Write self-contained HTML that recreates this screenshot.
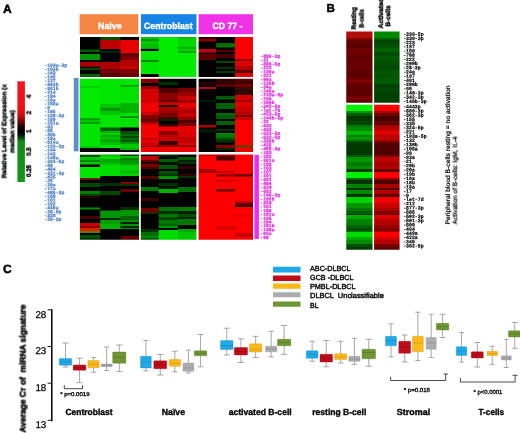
<!DOCTYPE html>
<html lang="en"><head><meta charset="utf-8"><title>Figure</title>
<style>html,body{margin:0;padding:0;background:#fff}body{width:520px;height:433px;overflow:hidden}svg{display:block;font-family:"Liberation Sans",sans-serif;text-rendering:geometricPrecision}</style>
</head><body>
<svg width="520" height="433" viewBox="0 0 520 433">
<defs><filter id="bl" x="-5%" y="-5%" width="110%" height="110%"><feGaussianBlur stdDeviation="0.6 0.62"/></filter><filter id="tb" x="-10%" y="-2%" width="120%" height="104%"><feGaussianBlur stdDeviation="0.28"/></filter><filter id="tb2" x="-20%" y="-20%" width="140%" height="140%"><feGaussianBlur stdDeviation="0.25"/></filter><filter id="bl2" x="-5%" y="-5%" width="110%" height="110%"><feGaussianBlur stdDeviation="0.5 0.55"/></filter>
<linearGradient id="lg" x1="0" y1="0" x2="0" y2="1"><stop offset="0" stop-color="#f5151f"/><stop offset="0.28" stop-color="#ee0f14"/><stop offset="0.355" stop-color="#b80a0c"/><stop offset="0.455" stop-color="#1c0000"/><stop offset="0.50" stop-color="#000"/><stop offset="0.53" stop-color="#021202"/><stop offset="0.60" stop-color="#138a18"/><stop offset="1" stop-color="#17961c"/></linearGradient>
</defs>
<rect width="520" height="433" fill="#fff"/>
<text filter="url(#tb2)" x="2.90" y="12.90" font-size="12.00" font-weight="bold" fill="#000" stroke="#000" stroke-width="0.480" text-anchor="start">A</text>
<text filter="url(#tb2)" x="326.40" y="12.30" font-size="11.60" font-weight="bold" fill="#000" stroke="#000" stroke-width="0.464" text-anchor="start">B</text>
<text filter="url(#tb2)" x="3.00" y="273.00" font-size="12.00" font-weight="bold" fill="#000" stroke="#000" stroke-width="0.480" text-anchor="start">C</text>
<rect x="79.6" y="14.2" width="58.7" height="20" fill="#f58542"/>
<rect x="140.9" y="14.2" width="55.6" height="20" fill="#1584e6"/>
<rect x="198.6" y="14.2" width="54.4" height="20" fill="#f033e6"/>
<text filter="url(#tb2)" x="109.80" y="29.20" font-size="9.20" font-weight="bold" fill="#fff" stroke="#fff" stroke-width="0.368" text-anchor="middle" textLength="23.50" lengthAdjust="spacingAndGlyphs">Naive</text>
<text filter="url(#tb2)" x="168.30" y="29.20" font-size="9.20" font-weight="bold" fill="#fff" stroke="#fff" stroke-width="0.368" text-anchor="middle" textLength="48.50" lengthAdjust="spacingAndGlyphs">Centroblast</text>
<text filter="url(#tb2)" x="227.50" y="29.20" font-size="9.20" font-weight="bold" fill="#fff" stroke="#fff" stroke-width="0.368" text-anchor="middle" textLength="30.00" lengthAdjust="spacingAndGlyphs">CD 77 -</text>
<clipPath id="c1"><rect x="79.90" y="37.00" width="59.20" height="40.00"/></clipPath>
<g clip-path="url(#c1)"><g filter="url(#bl)">
<rect x="76.90" y="34.00" width="24.95" height="17.10" fill="#000000"/>
<rect x="76.90" y="49.50" width="24.95" height="4.10" fill="#005a00"/>
<rect x="76.90" y="52.00" width="24.95" height="3.60" fill="#000000"/>
<rect x="76.90" y="54.00" width="24.95" height="7.60" fill="#009600"/>
<rect x="76.90" y="60.00" width="24.95" height="3.60" fill="#000000"/>
<rect x="76.90" y="62.00" width="24.95" height="6.10" fill="#aa0000"/>
<rect x="76.90" y="66.50" width="24.95" height="3.10" fill="#280000"/>
<rect x="76.90" y="68.00" width="24.95" height="3.60" fill="#004600"/>
<rect x="76.90" y="70.00" width="24.95" height="5.60" fill="#000000"/>
<rect x="76.90" y="74.00" width="24.95" height="7.60" fill="#006400"/>
<rect x="100.25" y="34.00" width="21.85" height="7.60" fill="#005000"/>
<rect x="100.25" y="40.00" width="21.85" height="10.60" fill="#be0000"/>
<rect x="100.25" y="49.00" width="21.85" height="3.60" fill="#000000"/>
<rect x="100.25" y="51.00" width="21.85" height="3.60" fill="#002800"/>
<rect x="100.25" y="53.00" width="21.85" height="7.60" fill="#030008"/>
<rect x="100.25" y="59.00" width="21.85" height="4.60" fill="#000000"/>
<rect x="100.25" y="62.00" width="21.85" height="8.60" fill="#aa0000"/>
<rect x="100.25" y="69.00" width="21.85" height="5.60" fill="#73000a"/>
<rect x="100.25" y="73.00" width="21.85" height="8.60" fill="#5a0000"/>
<rect x="120.50" y="34.00" width="21.60" height="7.60" fill="#000000"/>
<rect x="120.50" y="40.00" width="21.60" height="14.60" fill="#e60000"/>
<rect x="120.50" y="53.00" width="21.60" height="5.60" fill="#640000"/>
<rect x="120.50" y="57.00" width="21.60" height="4.60" fill="#820000"/>
<rect x="120.50" y="60.00" width="21.60" height="7.60" fill="#b40000"/>
<rect x="120.50" y="66.00" width="21.60" height="4.60" fill="#c80000"/>
<rect x="120.50" y="69.00" width="21.60" height="5.60" fill="#820000"/>
<rect x="120.50" y="73.00" width="21.60" height="8.60" fill="#6e0000"/>
</g></g>
<clipPath id="c2"><rect x="140.80" y="37.00" width="55.60" height="40.00"/></clipPath>
<g clip-path="url(#c2)"><g filter="url(#bl)">
<rect x="137.80" y="34.00" width="22.60" height="6.60" fill="#00c800"/>
<rect x="137.80" y="39.00" width="22.60" height="4.10" fill="#009600"/>
<rect x="137.80" y="41.50" width="22.60" height="3.10" fill="#00dc00"/>
<rect x="137.80" y="43.00" width="22.60" height="6.60" fill="#00be00"/>
<rect x="137.80" y="48.00" width="22.60" height="2.60" fill="#00a000"/>
<rect x="137.80" y="49.00" width="22.60" height="3.60" fill="#000000"/>
<rect x="137.80" y="51.00" width="22.60" height="10.60" fill="#00e600"/>
<rect x="137.80" y="60.00" width="22.60" height="3.60" fill="#008c00"/>
<rect x="137.80" y="62.00" width="22.60" height="13.60" fill="#00e600"/>
<rect x="137.80" y="74.00" width="22.60" height="7.60" fill="#000000"/>
<rect x="158.80" y="34.00" width="20.70" height="47.60" fill="#00eb00"/>
<rect x="177.90" y="34.00" width="21.50" height="6.60" fill="#00be00"/>
<rect x="177.90" y="39.00" width="21.50" height="9.60" fill="#00d700"/>
<rect x="177.90" y="47.00" width="21.50" height="3.60" fill="#00b400"/>
<rect x="177.90" y="49.00" width="21.50" height="3.60" fill="#00d200"/>
<rect x="177.90" y="51.00" width="21.50" height="3.60" fill="#00aa00"/>
<rect x="177.90" y="53.00" width="21.50" height="28.60" fill="#00eb00"/>
</g></g>
<clipPath id="c3"><rect x="198.60" y="37.00" width="54.40" height="40.00"/></clipPath>
<g clip-path="url(#c3)"><g filter="url(#bl)">
<rect x="195.60" y="34.00" width="22.20" height="6.10" fill="#1e0000"/>
<rect x="195.60" y="38.50" width="22.20" height="4.60" fill="#820000"/>
<rect x="195.60" y="41.50" width="22.20" height="9.10" fill="#000000"/>
<rect x="195.60" y="49.00" width="22.20" height="5.10" fill="#be0014"/>
<rect x="195.60" y="52.50" width="22.20" height="3.10" fill="#1e0000"/>
<rect x="195.60" y="54.00" width="22.20" height="7.60" fill="#5a0000"/>
<rect x="195.60" y="60.00" width="22.20" height="21.60" fill="#000000"/>
<rect x="216.20" y="34.00" width="20.50" height="10.60" fill="#000000"/>
<rect x="216.20" y="43.00" width="20.50" height="6.10" fill="#006e00"/>
<rect x="216.20" y="47.50" width="20.50" height="4.10" fill="#000000"/>
<rect x="216.20" y="50.00" width="20.50" height="3.60" fill="#500000"/>
<rect x="216.20" y="52.00" width="20.50" height="3.60" fill="#000000"/>
<rect x="216.20" y="54.00" width="20.50" height="5.60" fill="#460000"/>
<rect x="216.20" y="58.00" width="20.50" height="4.60" fill="#000000"/>
<rect x="216.20" y="61.00" width="20.50" height="3.60" fill="#004600"/>
<rect x="216.20" y="63.00" width="20.50" height="5.60" fill="#000000"/>
<rect x="216.20" y="67.00" width="20.50" height="3.60" fill="#003200"/>
<rect x="216.20" y="69.00" width="20.50" height="3.60" fill="#000000"/>
<rect x="216.20" y="71.00" width="20.50" height="3.60" fill="#003c00"/>
<rect x="216.20" y="73.00" width="20.50" height="8.60" fill="#000000"/>
<rect x="235.10" y="34.00" width="20.90" height="26.60" fill="#fa0000"/>
<rect x="235.10" y="59.00" width="20.90" height="3.60" fill="#960000"/>
<rect x="235.10" y="61.00" width="20.90" height="6.60" fill="#dc0000"/>
<rect x="235.10" y="66.00" width="20.90" height="5.60" fill="#b40000"/>
<rect x="235.10" y="70.00" width="20.90" height="4.60" fill="#640000"/>
<rect x="235.10" y="73.00" width="20.90" height="4.60" fill="#dc0000"/>
<rect x="235.10" y="76.00" width="20.90" height="5.60" fill="#fa0000"/>
</g></g>
<clipPath id="c4"><rect x="79.90" y="78.75" width="59.20" height="73.25"/></clipPath>
<g clip-path="url(#c4)"><g filter="url(#bl)">
<rect x="76.90" y="75.75" width="24.95" height="11.85" fill="#00eb00"/>
<rect x="76.90" y="86.00" width="24.95" height="3.60" fill="#00d200"/>
<rect x="76.90" y="88.00" width="24.95" height="31.60" fill="#00eb00"/>
<rect x="76.90" y="118.00" width="24.95" height="3.60" fill="#00a000"/>
<rect x="76.90" y="120.00" width="24.95" height="3.60" fill="#00c800"/>
<rect x="76.90" y="122.00" width="24.95" height="3.60" fill="#00a000"/>
<rect x="76.90" y="124.00" width="24.95" height="23.60" fill="#00e400"/>
<rect x="76.90" y="146.00" width="24.95" height="3.60" fill="#00c800"/>
<rect x="76.90" y="148.00" width="24.95" height="8.60" fill="#000000"/>
<rect x="100.25" y="75.75" width="21.85" height="29.85" fill="#00e600"/>
<rect x="100.25" y="104.00" width="21.85" height="3.60" fill="#00c800"/>
<rect x="100.25" y="106.00" width="21.85" height="3.60" fill="#00be00"/>
<rect x="100.25" y="108.00" width="21.85" height="4.60" fill="#009600"/>
<rect x="100.25" y="111.00" width="21.85" height="5.60" fill="#00c800"/>
<rect x="100.25" y="115.00" width="21.85" height="14.10" fill="#00e600"/>
<rect x="100.25" y="127.50" width="21.85" height="5.10" fill="#005a00"/>
<rect x="100.25" y="131.00" width="21.85" height="3.60" fill="#00b400"/>
<rect x="100.25" y="133.00" width="21.85" height="3.60" fill="#00d200"/>
<rect x="100.25" y="135.00" width="21.85" height="3.60" fill="#00aa00"/>
<rect x="100.25" y="137.00" width="21.85" height="3.60" fill="#00c800"/>
<rect x="100.25" y="139.00" width="21.85" height="4.60" fill="#00aa00"/>
<rect x="100.25" y="142.00" width="21.85" height="4.60" fill="#00be00"/>
<rect x="100.25" y="145.00" width="21.85" height="4.60" fill="#00e600"/>
<rect x="100.25" y="148.00" width="21.85" height="8.60" fill="#000000"/>
<rect x="120.50" y="75.75" width="21.60" height="10.85" fill="#00e600"/>
<rect x="120.50" y="85.00" width="21.60" height="3.60" fill="#00aa00"/>
<rect x="120.50" y="87.00" width="21.60" height="17.60" fill="#00e100"/>
<rect x="120.50" y="103.00" width="21.60" height="11.60" fill="#00b400"/>
<rect x="120.50" y="113.00" width="21.60" height="4.60" fill="#00e100"/>
<rect x="120.50" y="116.00" width="21.60" height="3.60" fill="#009600"/>
<rect x="120.50" y="118.00" width="21.60" height="11.10" fill="#00e100"/>
<rect x="120.50" y="127.50" width="21.60" height="5.10" fill="#000000"/>
<rect x="120.50" y="131.00" width="21.60" height="4.60" fill="#005000"/>
<rect x="120.50" y="134.00" width="21.60" height="3.60" fill="#006e00"/>
<rect x="120.50" y="136.00" width="21.60" height="3.60" fill="#004600"/>
<rect x="120.50" y="138.00" width="21.60" height="3.60" fill="#006e00"/>
<rect x="120.50" y="140.00" width="21.60" height="3.60" fill="#005a00"/>
<rect x="120.50" y="142.00" width="21.60" height="3.60" fill="#009600"/>
<rect x="120.50" y="144.00" width="21.60" height="5.60" fill="#00c800"/>
<rect x="120.50" y="148.00" width="21.60" height="3.60" fill="#00b400"/>
<rect x="120.50" y="150.00" width="21.60" height="6.60" fill="#000000"/>
</g></g>
<clipPath id="c5"><rect x="140.80" y="78.75" width="55.60" height="73.25"/></clipPath>
<g clip-path="url(#c5)"><g filter="url(#bl)">
<rect x="137.80" y="75.75" width="22.60" height="8.85" fill="#820000"/>
<rect x="137.80" y="83.00" width="22.60" height="4.60" fill="#000000"/>
<rect x="137.80" y="86.00" width="22.60" height="4.60" fill="#960000"/>
<rect x="137.80" y="89.00" width="22.60" height="15.60" fill="#d20000"/>
<rect x="137.80" y="103.00" width="22.60" height="10.60" fill="#f00000"/>
<rect x="137.80" y="112.00" width="22.60" height="4.60" fill="#c80000"/>
<rect x="137.80" y="115.00" width="22.60" height="4.60" fill="#820000"/>
<rect x="137.80" y="118.00" width="22.60" height="5.60" fill="#730000"/>
<rect x="137.80" y="122.00" width="22.60" height="3.60" fill="#aa0000"/>
<rect x="137.80" y="124.00" width="22.60" height="15.60" fill="#f00000"/>
<rect x="137.80" y="138.00" width="22.60" height="3.60" fill="#c80000"/>
<rect x="137.80" y="140.00" width="22.60" height="4.60" fill="#e60000"/>
<rect x="137.80" y="143.00" width="22.60" height="4.60" fill="#c80000"/>
<rect x="137.80" y="146.00" width="22.60" height="2.60" fill="#8c0000"/>
<rect x="137.80" y="147.00" width="22.60" height="9.60" fill="#f00000"/>
<rect x="158.80" y="75.75" width="20.70" height="7.85" fill="#000000"/>
<rect x="158.80" y="82.00" width="20.70" height="4.60" fill="#003200"/>
<rect x="158.80" y="85.00" width="20.70" height="4.60" fill="#000000"/>
<rect x="158.80" y="88.00" width="20.70" height="6.60" fill="#500000"/>
<rect x="158.80" y="93.00" width="20.70" height="8.60" fill="#8c0000"/>
<rect x="158.80" y="100.00" width="20.70" height="3.60" fill="#640000"/>
<rect x="158.80" y="102.00" width="20.70" height="4.60" fill="#c80000"/>
<rect x="158.80" y="105.00" width="20.70" height="3.60" fill="#280000"/>
<rect x="158.80" y="107.00" width="20.70" height="4.60" fill="#aa0000"/>
<rect x="158.80" y="110.00" width="20.70" height="4.60" fill="#a00000"/>
<rect x="158.80" y="113.00" width="20.70" height="5.60" fill="#780000"/>
<rect x="158.80" y="117.00" width="20.70" height="3.60" fill="#460000"/>
<rect x="158.80" y="119.00" width="20.70" height="3.60" fill="#002800"/>
<rect x="158.80" y="121.00" width="20.70" height="4.60" fill="#000000"/>
<rect x="158.80" y="124.00" width="20.70" height="4.10" fill="#320000"/>
<rect x="158.80" y="126.50" width="20.70" height="6.10" fill="#f00000"/>
<rect x="158.80" y="131.00" width="20.70" height="5.60" fill="#8c0000"/>
<rect x="158.80" y="135.00" width="20.70" height="3.60" fill="#be0000"/>
<rect x="158.80" y="137.00" width="20.70" height="5.60" fill="#c80000"/>
<rect x="158.80" y="141.00" width="20.70" height="5.60" fill="#3c0000"/>
<rect x="158.80" y="145.00" width="20.70" height="3.60" fill="#960000"/>
<rect x="158.80" y="147.00" width="20.70" height="9.60" fill="#f00000"/>
<rect x="177.90" y="75.75" width="21.50" height="13.85" fill="#000000"/>
<rect x="177.90" y="88.00" width="21.50" height="5.60" fill="#780000"/>
<rect x="177.90" y="92.00" width="21.50" height="5.60" fill="#960000"/>
<rect x="177.90" y="96.00" width="21.50" height="5.60" fill="#c80000"/>
<rect x="177.90" y="100.00" width="21.50" height="4.60" fill="#a00000"/>
<rect x="177.90" y="103.00" width="21.50" height="5.60" fill="#e60000"/>
<rect x="177.90" y="107.00" width="21.50" height="4.60" fill="#c80000"/>
<rect x="177.90" y="110.00" width="21.50" height="4.60" fill="#aa0000"/>
<rect x="177.90" y="113.00" width="21.50" height="5.60" fill="#c80000"/>
<rect x="177.90" y="117.00" width="21.50" height="4.60" fill="#910000"/>
<rect x="177.90" y="120.00" width="21.50" height="4.60" fill="#500000"/>
<rect x="177.90" y="123.00" width="21.50" height="4.60" fill="#7d0000"/>
<rect x="177.90" y="126.00" width="21.50" height="6.60" fill="#e10000"/>
<rect x="177.90" y="131.00" width="21.50" height="7.60" fill="#dc0000"/>
<rect x="177.90" y="137.00" width="21.50" height="4.60" fill="#be0000"/>
<rect x="177.90" y="140.00" width="21.50" height="4.60" fill="#c80000"/>
<rect x="177.90" y="143.00" width="21.50" height="3.60" fill="#dc0000"/>
<rect x="177.90" y="145.00" width="21.50" height="3.60" fill="#960000"/>
<rect x="177.90" y="147.00" width="21.50" height="9.60" fill="#f00000"/>
</g></g>
<clipPath id="c6"><rect x="198.60" y="78.75" width="54.40" height="73.25"/></clipPath>
<g clip-path="url(#c6)"><g filter="url(#bl)">
<rect x="195.60" y="75.75" width="22.20" height="7.85" fill="#000000"/>
<rect x="195.60" y="82.00" width="22.20" height="4.60" fill="#280000"/>
<rect x="195.60" y="85.00" width="22.20" height="3.60" fill="#000000"/>
<rect x="195.60" y="87.00" width="22.20" height="3.60" fill="#be001e"/>
<rect x="195.60" y="89.00" width="22.20" height="12.60" fill="#000000"/>
<rect x="195.60" y="100.00" width="22.20" height="3.60" fill="#001e00"/>
<rect x="195.60" y="102.00" width="22.20" height="24.60" fill="#000000"/>
<rect x="195.60" y="125.00" width="22.20" height="4.10" fill="#aa0000"/>
<rect x="195.60" y="127.50" width="22.20" height="3.10" fill="#000000"/>
<rect x="195.60" y="129.00" width="22.20" height="5.60" fill="#001900"/>
<rect x="195.60" y="133.00" width="22.20" height="23.60" fill="#000000"/>
<rect x="216.20" y="75.75" width="20.50" height="9.85" fill="#320000"/>
<rect x="216.20" y="84.00" width="20.50" height="4.60" fill="#5a0000"/>
<rect x="216.20" y="87.00" width="20.50" height="10.60" fill="#000000"/>
<rect x="216.20" y="96.00" width="20.50" height="5.10" fill="#005a00"/>
<rect x="216.20" y="99.50" width="20.50" height="5.10" fill="#000000"/>
<rect x="216.20" y="103.00" width="20.50" height="7.60" fill="#006400"/>
<rect x="216.20" y="109.00" width="20.50" height="5.60" fill="#000000"/>
<rect x="216.20" y="113.00" width="20.50" height="3.60" fill="#006e00"/>
<rect x="216.20" y="115.00" width="20.50" height="5.60" fill="#005a00"/>
<rect x="216.20" y="119.00" width="20.50" height="3.60" fill="#000000"/>
<rect x="216.20" y="121.00" width="20.50" height="5.60" fill="#005f00"/>
<rect x="216.20" y="125.00" width="20.50" height="5.60" fill="#000000"/>
<rect x="216.20" y="129.00" width="20.50" height="3.60" fill="#003200"/>
<rect x="216.20" y="131.00" width="20.50" height="3.60" fill="#000000"/>
<rect x="216.20" y="133.00" width="20.50" height="5.60" fill="#008200"/>
<rect x="216.20" y="137.00" width="20.50" height="3.60" fill="#006400"/>
<rect x="216.20" y="139.00" width="20.50" height="3.60" fill="#003c00"/>
<rect x="216.20" y="141.00" width="20.50" height="3.60" fill="#002800"/>
<rect x="216.20" y="143.00" width="20.50" height="3.60" fill="#000000"/>
<rect x="216.20" y="145.00" width="20.50" height="4.60" fill="#820000"/>
<rect x="216.20" y="148.00" width="20.50" height="3.60" fill="#002800"/>
<rect x="216.20" y="150.00" width="20.50" height="6.60" fill="#000000"/>
<rect x="235.10" y="75.75" width="20.90" height="6.85" fill="#500000"/>
<rect x="235.10" y="81.00" width="20.90" height="4.60" fill="#460000"/>
<rect x="235.10" y="84.00" width="20.90" height="4.60" fill="#6e0000"/>
<rect x="235.10" y="87.00" width="20.90" height="3.60" fill="#460000"/>
<rect x="235.10" y="89.00" width="20.90" height="5.60" fill="#280a00"/>
<rect x="235.10" y="93.00" width="20.90" height="3.60" fill="#3c0000"/>
<rect x="235.10" y="95.00" width="20.90" height="6.60" fill="#d20000"/>
<rect x="235.10" y="100.00" width="20.90" height="3.60" fill="#aa0000"/>
<rect x="235.10" y="102.00" width="20.90" height="6.60" fill="#dc0000"/>
<rect x="235.10" y="107.00" width="20.90" height="6.60" fill="#c80000"/>
<rect x="235.10" y="112.00" width="20.90" height="4.60" fill="#b40000"/>
<rect x="235.10" y="115.00" width="20.90" height="3.60" fill="#820000"/>
<rect x="235.10" y="117.00" width="20.90" height="4.60" fill="#c80000"/>
<rect x="235.10" y="120.00" width="20.90" height="26.60" fill="#fc0000"/>
<rect x="235.10" y="145.00" width="20.90" height="4.60" fill="#823200"/>
<rect x="235.10" y="148.00" width="20.90" height="8.60" fill="#e60000"/>
</g></g>
<clipPath id="c7"><rect x="79.90" y="154.40" width="59.20" height="85.40"/></clipPath>
<g clip-path="url(#c7)"><g filter="url(#bl)">
<rect x="76.90" y="151.40" width="24.95" height="5.40" fill="#00c800"/>
<rect x="76.90" y="155.20" width="24.95" height="3.40" fill="#003c00"/>
<rect x="76.90" y="157.00" width="24.95" height="4.60" fill="#00c800"/>
<rect x="76.90" y="160.00" width="24.95" height="3.60" fill="#008c00"/>
<rect x="76.90" y="162.00" width="24.95" height="4.10" fill="#00c800"/>
<rect x="76.90" y="164.50" width="24.95" height="4.10" fill="#000000"/>
<rect x="76.90" y="167.00" width="24.95" height="12.60" fill="#00e600"/>
<rect x="76.90" y="178.00" width="24.95" height="3.60" fill="#641e00"/>
<rect x="76.90" y="180.00" width="24.95" height="4.60" fill="#000000"/>
<rect x="76.90" y="183.00" width="24.95" height="5.60" fill="#004600"/>
<rect x="76.90" y="187.00" width="24.95" height="5.60" fill="#000000"/>
<rect x="76.90" y="191.00" width="24.95" height="4.60" fill="#008200"/>
<rect x="76.90" y="194.00" width="24.95" height="3.60" fill="#003c00"/>
<rect x="76.90" y="196.00" width="24.95" height="3.60" fill="#280000"/>
<rect x="76.90" y="198.00" width="24.95" height="11.10" fill="#000000"/>
<rect x="76.90" y="207.50" width="24.95" height="3.60" fill="#008c00"/>
<rect x="76.90" y="209.50" width="24.95" height="8.10" fill="#000000"/>
<rect x="76.90" y="216.00" width="24.95" height="4.60" fill="#460000"/>
<rect x="76.90" y="219.00" width="24.95" height="5.60" fill="#000000"/>
<rect x="76.90" y="223.00" width="24.95" height="4.60" fill="#c80000"/>
<rect x="76.90" y="226.00" width="24.95" height="3.60" fill="#8c0000"/>
<rect x="76.90" y="228.00" width="24.95" height="4.60" fill="#e61e00"/>
<rect x="76.90" y="231.00" width="24.95" height="3.60" fill="#508200"/>
<rect x="76.90" y="233.00" width="24.95" height="3.60" fill="#000000"/>
<rect x="76.90" y="235.00" width="24.95" height="4.60" fill="#005000"/>
<rect x="76.90" y="238.00" width="24.95" height="6.40" fill="#003200"/>
<rect x="100.25" y="151.40" width="21.85" height="6.20" fill="#00b400"/>
<rect x="100.25" y="156.00" width="21.85" height="4.60" fill="#00dc00"/>
<rect x="100.25" y="159.00" width="21.85" height="5.60" fill="#00aa00"/>
<rect x="100.25" y="163.00" width="21.85" height="3.60" fill="#00c300"/>
<rect x="100.25" y="165.00" width="21.85" height="12.60" fill="#00dc00"/>
<rect x="100.25" y="176.00" width="21.85" height="8.60" fill="#000000"/>
<rect x="100.25" y="183.00" width="21.85" height="4.60" fill="#003200"/>
<rect x="100.25" y="186.00" width="21.85" height="6.60" fill="#000000"/>
<rect x="100.25" y="191.00" width="21.85" height="5.60" fill="#004600"/>
<rect x="100.25" y="195.00" width="21.85" height="17.10" fill="#000000"/>
<rect x="100.25" y="210.50" width="21.85" height="9.10" fill="#009600"/>
<rect x="100.25" y="218.00" width="21.85" height="3.60" fill="#002800"/>
<rect x="100.25" y="220.00" width="21.85" height="5.60" fill="#00a000"/>
<rect x="100.25" y="224.00" width="21.85" height="6.60" fill="#00b400"/>
<rect x="100.25" y="229.00" width="21.85" height="15.40" fill="#000000"/>
<rect x="120.50" y="151.40" width="21.60" height="6.20" fill="#004600"/>
<rect x="120.50" y="156.00" width="21.60" height="3.60" fill="#00be00"/>
<rect x="120.50" y="158.00" width="21.60" height="3.60" fill="#008200"/>
<rect x="120.50" y="160.00" width="21.60" height="4.60" fill="#009600"/>
<rect x="120.50" y="163.00" width="21.60" height="3.60" fill="#00a500"/>
<rect x="120.50" y="165.00" width="21.60" height="7.60" fill="#00d200"/>
<rect x="120.50" y="171.00" width="21.60" height="3.60" fill="#00b400"/>
<rect x="120.50" y="173.00" width="21.60" height="4.60" fill="#00d200"/>
<rect x="120.50" y="176.00" width="21.60" height="7.60" fill="#000000"/>
<rect x="120.50" y="182.00" width="21.60" height="3.60" fill="#820000"/>
<rect x="120.50" y="184.00" width="21.60" height="3.60" fill="#003200"/>
<rect x="120.50" y="186.00" width="21.60" height="4.90" fill="#000000"/>
<rect x="120.50" y="189.30" width="21.60" height="4.00" fill="#7d0000"/>
<rect x="120.50" y="191.70" width="21.60" height="16.90" fill="#000000"/>
<rect x="120.50" y="207.00" width="21.60" height="4.60" fill="#002d00"/>
<rect x="120.50" y="210.00" width="21.60" height="7.60" fill="#009600"/>
<rect x="120.50" y="216.00" width="21.60" height="5.60" fill="#006400"/>
<rect x="120.50" y="220.00" width="21.60" height="3.60" fill="#008c00"/>
<rect x="120.50" y="222.00" width="21.60" height="3.60" fill="#001e00"/>
<rect x="120.50" y="224.00" width="21.60" height="3.60" fill="#009600"/>
<rect x="120.50" y="226.00" width="21.60" height="3.60" fill="#002800"/>
<rect x="120.50" y="228.00" width="21.60" height="2.60" fill="#008c00"/>
<rect x="120.50" y="229.00" width="21.60" height="8.60" fill="#000000"/>
<rect x="120.50" y="236.00" width="21.60" height="8.40" fill="#5f0000"/>
</g></g>
<clipPath id="c8"><rect x="140.80" y="154.40" width="55.60" height="85.40"/></clipPath>
<g clip-path="url(#c8)"><g filter="url(#bl)">
<rect x="137.80" y="151.40" width="22.60" height="6.20" fill="#000000"/>
<rect x="137.80" y="156.00" width="22.60" height="5.60" fill="#be0000"/>
<rect x="137.80" y="160.00" width="22.60" height="3.60" fill="#640000"/>
<rect x="137.80" y="162.00" width="22.60" height="3.10" fill="#000000"/>
<rect x="137.80" y="163.50" width="22.60" height="5.10" fill="#7d0000"/>
<rect x="137.80" y="167.00" width="22.60" height="3.60" fill="#500000"/>
<rect x="137.80" y="169.00" width="22.60" height="8.60" fill="#000000"/>
<rect x="137.80" y="176.00" width="22.60" height="4.60" fill="#500000"/>
<rect x="137.80" y="179.00" width="22.60" height="9.60" fill="#000000"/>
<rect x="137.80" y="187.00" width="22.60" height="5.60" fill="#007800"/>
<rect x="137.80" y="191.00" width="22.60" height="8.60" fill="#000000"/>
<rect x="137.80" y="198.00" width="22.60" height="4.60" fill="#3c0000"/>
<rect x="137.80" y="201.00" width="22.60" height="8.60" fill="#000000"/>
<rect x="137.80" y="208.00" width="22.60" height="5.60" fill="#6e0000"/>
<rect x="137.80" y="212.00" width="22.60" height="3.60" fill="#1e2800"/>
<rect x="137.80" y="214.00" width="22.60" height="16.60" fill="#000000"/>
<rect x="137.80" y="229.00" width="22.60" height="4.60" fill="#003200"/>
<rect x="137.80" y="232.00" width="22.60" height="5.60" fill="#006e00"/>
<rect x="137.80" y="236.00" width="22.60" height="3.60" fill="#008700"/>
<rect x="137.80" y="238.00" width="22.60" height="6.40" fill="#005a00"/>
<rect x="158.80" y="151.40" width="20.70" height="7.20" fill="#002800"/>
<rect x="158.80" y="157.00" width="20.70" height="3.60" fill="#000000"/>
<rect x="158.80" y="159.00" width="20.70" height="4.60" fill="#005f00"/>
<rect x="158.80" y="162.00" width="20.70" height="4.60" fill="#000f00"/>
<rect x="158.80" y="165.00" width="20.70" height="5.60" fill="#005800"/>
<rect x="158.80" y="169.00" width="20.70" height="3.60" fill="#000000"/>
<rect x="158.80" y="171.00" width="20.70" height="4.60" fill="#005000"/>
<rect x="158.80" y="174.00" width="20.70" height="3.60" fill="#003200"/>
<rect x="158.80" y="176.00" width="20.70" height="4.60" fill="#009600"/>
<rect x="158.80" y="179.00" width="20.70" height="5.60" fill="#000000"/>
<rect x="158.80" y="183.00" width="20.70" height="4.60" fill="#003200"/>
<rect x="158.80" y="186.00" width="20.70" height="4.60" fill="#001400"/>
<rect x="158.80" y="189.00" width="20.70" height="5.60" fill="#00b400"/>
<rect x="158.80" y="193.00" width="20.70" height="15.60" fill="#000000"/>
<rect x="158.80" y="207.00" width="20.70" height="5.60" fill="#007300"/>
<rect x="158.80" y="211.00" width="20.70" height="4.60" fill="#003200"/>
<rect x="158.80" y="214.00" width="20.70" height="4.60" fill="#007800"/>
<rect x="158.80" y="217.00" width="20.70" height="4.60" fill="#004600"/>
<rect x="158.80" y="220.00" width="20.70" height="5.60" fill="#007800"/>
<rect x="158.80" y="224.00" width="20.70" height="3.60" fill="#006400"/>
<rect x="158.80" y="226.00" width="20.70" height="3.60" fill="#009600"/>
<rect x="158.80" y="228.00" width="20.70" height="3.60" fill="#000000"/>
<rect x="158.80" y="230.00" width="20.70" height="14.40" fill="#00dc00"/>
<rect x="177.90" y="151.40" width="21.50" height="7.20" fill="#000000"/>
<rect x="177.90" y="157.00" width="21.50" height="4.60" fill="#005a00"/>
<rect x="177.90" y="160.00" width="21.50" height="3.60" fill="#002300"/>
<rect x="177.90" y="162.00" width="21.50" height="3.60" fill="#003700"/>
<rect x="177.90" y="164.00" width="21.50" height="3.60" fill="#000000"/>
<rect x="177.90" y="166.00" width="21.50" height="4.60" fill="#320000"/>
<rect x="177.90" y="169.00" width="21.50" height="6.60" fill="#000000"/>
<rect x="177.90" y="174.00" width="21.50" height="3.60" fill="#320000"/>
<rect x="177.90" y="176.00" width="21.50" height="3.60" fill="#003200"/>
<rect x="177.90" y="178.00" width="21.50" height="10.60" fill="#000000"/>
<rect x="177.90" y="187.00" width="21.50" height="6.60" fill="#006e00"/>
<rect x="177.90" y="192.00" width="21.50" height="16.60" fill="#000000"/>
<rect x="177.90" y="207.00" width="21.50" height="5.60" fill="#007d00"/>
<rect x="177.90" y="211.00" width="21.50" height="4.60" fill="#001e00"/>
<rect x="177.90" y="214.00" width="21.50" height="4.60" fill="#005000"/>
<rect x="177.90" y="217.00" width="21.50" height="3.60" fill="#002800"/>
<rect x="177.90" y="219.00" width="21.50" height="7.60" fill="#007800"/>
<rect x="177.90" y="225.00" width="21.50" height="5.60" fill="#000000"/>
<rect x="177.90" y="229.00" width="21.50" height="4.60" fill="#00aa00"/>
<rect x="177.90" y="232.00" width="21.50" height="12.40" fill="#00c800"/>
</g></g>
<clipPath id="c9"><rect x="198.60" y="154.40" width="54.40" height="85.40"/></clipPath>
<g clip-path="url(#c9)"><g filter="url(#bl)">
<rect x="195.60" y="151.40" width="22.20" height="6.20" fill="#b40000"/>
<rect x="195.60" y="156.00" width="22.20" height="14.60" fill="#fa0000"/>
<rect x="195.60" y="169.00" width="22.20" height="5.60" fill="#aa0000"/>
<rect x="195.60" y="173.00" width="22.20" height="71.40" fill="#fc0000"/>
<rect x="216.20" y="151.40" width="20.50" height="6.70" fill="#a00000"/>
<rect x="216.20" y="156.50" width="20.50" height="5.60" fill="#460000"/>
<rect x="216.20" y="160.50" width="20.50" height="12.10" fill="#fc0000"/>
<rect x="216.20" y="171.00" width="20.50" height="3.60" fill="#c80000"/>
<rect x="216.20" y="173.00" width="20.50" height="2.90" fill="#eb0000"/>
<rect x="216.20" y="174.30" width="20.50" height="3.90" fill="#960000"/>
<rect x="216.20" y="176.60" width="20.50" height="5.00" fill="#fc0000"/>
<rect x="216.20" y="180.00" width="20.50" height="3.60" fill="#dc0000"/>
<rect x="216.20" y="182.00" width="20.50" height="8.60" fill="#fc0000"/>
<rect x="216.20" y="189.00" width="20.50" height="4.10" fill="#6e0000"/>
<rect x="216.20" y="191.50" width="20.50" height="36.10" fill="#fc0000"/>
<rect x="216.20" y="226.00" width="20.50" height="5.60" fill="#dc0000"/>
<rect x="216.20" y="230.00" width="20.50" height="14.40" fill="#fc0000"/>
<rect x="235.10" y="151.40" width="20.90" height="24.20" fill="#fc0000"/>
<rect x="235.10" y="174.00" width="20.90" height="4.10" fill="#6e0000"/>
<rect x="235.10" y="176.50" width="20.90" height="26.10" fill="#fc0000"/>
<rect x="235.10" y="201.00" width="20.90" height="3.60" fill="#be0000"/>
<rect x="235.10" y="203.00" width="20.90" height="3.60" fill="#6e0000"/>
<rect x="235.10" y="205.00" width="20.90" height="3.60" fill="#3c0000"/>
<rect x="235.10" y="207.00" width="20.90" height="8.60" fill="#fc0000"/>
<rect x="235.10" y="214.00" width="20.90" height="4.60" fill="#eb0000"/>
<rect x="235.10" y="217.00" width="20.90" height="17.60" fill="#fc0000"/>
<rect x="235.10" y="233.00" width="20.90" height="5.60" fill="#c80000"/>
<rect x="235.10" y="237.00" width="20.90" height="7.40" fill="#fc0000"/>
</g></g>
<rect x="73.8" y="78" width="4.7" height="73.3" fill="#5b90d0"/>
<rect x="254.4" y="154.8" width="4.5" height="84.2" fill="#f22cf0"/>
<g font-family="'Liberation Mono', monospace" font-weight="bold" font-size="4.70" fill="#4a7cc4" stroke="#4a7cc4" stroke-width="0.2" filter="url(#tb)">
<text transform="translate(44.30,66.85) rotate(-0.04)" textLength="22.88" lengthAdjust="spacingAndGlyphs">-199a-3p</text>
<text transform="translate(44.30,70.70) rotate(-0.04)" textLength="14.30" lengthAdjust="spacingAndGlyphs">-193b</text>
<text transform="translate(44.30,74.55) rotate(-0.04)" textLength="11.44" lengthAdjust="spacingAndGlyphs">-143</text>
<text transform="translate(44.30,78.40) rotate(-0.04)" textLength="11.44" lengthAdjust="spacingAndGlyphs">-145</text>
<text transform="translate(44.30,82.25) rotate(-0.04)" textLength="11.44" lengthAdjust="spacingAndGlyphs">-127</text>
<text transform="translate(44.30,86.10) rotate(-0.04)" textLength="14.30" lengthAdjust="spacingAndGlyphs">-663b</text>
<text transform="translate(44.30,89.95) rotate(-0.04)" textLength="14.30" lengthAdjust="spacingAndGlyphs">-551b</text>
<text transform="translate(44.30,93.80) rotate(-0.04)" textLength="11.44" lengthAdjust="spacingAndGlyphs">-214</text>
<text transform="translate(44.30,97.65) rotate(-0.04)" textLength="11.44" lengthAdjust="spacingAndGlyphs">-184</text>
<text transform="translate(44.30,101.50) rotate(-0.04)" textLength="11.44" lengthAdjust="spacingAndGlyphs">-10a</text>
<text transform="translate(44.30,105.35) rotate(-0.04)" textLength="14.30" lengthAdjust="spacingAndGlyphs">-150a</text>
<text transform="translate(44.30,109.20) rotate(-0.04)" textLength="5.72" lengthAdjust="spacingAndGlyphs">-9</text>
<text transform="translate(44.30,113.05) rotate(-0.04)" textLength="11.44" lengthAdjust="spacingAndGlyphs">-10b</text>
<text transform="translate(44.30,116.90) rotate(-0.04)" textLength="20.02" lengthAdjust="spacingAndGlyphs">-128-3p</text>
<text transform="translate(44.30,120.75) rotate(-0.04)" textLength="11.44" lengthAdjust="spacingAndGlyphs">-150</text>
<text transform="translate(44.30,124.60) rotate(-0.04)" textLength="14.30" lengthAdjust="spacingAndGlyphs">-151a</text>
<text transform="translate(44.30,128.45) rotate(-0.04)" textLength="8.58" lengthAdjust="spacingAndGlyphs">-93</text>
<text transform="translate(44.30,132.30) rotate(-0.04)" textLength="8.58" lengthAdjust="spacingAndGlyphs">-95</text>
<text transform="translate(44.30,136.15) rotate(-0.04)" textLength="11.44" lengthAdjust="spacingAndGlyphs">-30b</text>
<text transform="translate(44.30,140.00) rotate(-0.04)" textLength="11.44" lengthAdjust="spacingAndGlyphs">-18a</text>
<text transform="translate(44.30,143.85) rotate(-0.04)" textLength="14.30" lengthAdjust="spacingAndGlyphs">-514a</text>
<text transform="translate(44.30,147.70) rotate(-0.04)" textLength="20.02" lengthAdjust="spacingAndGlyphs">-126-3p</text>
<text transform="translate(44.30,151.55) rotate(-0.04)" textLength="11.44" lengthAdjust="spacingAndGlyphs">-144</text>
<text transform="translate(44.30,155.40) rotate(-0.04)" textLength="11.44" lengthAdjust="spacingAndGlyphs">-143</text>
<text transform="translate(44.30,159.25) rotate(-0.04)" textLength="14.30" lengthAdjust="spacingAndGlyphs">-148a</text>
<text transform="translate(44.30,163.10) rotate(-0.04)" textLength="20.02" lengthAdjust="spacingAndGlyphs">-324-5p</text>
<text transform="translate(44.30,166.95) rotate(-0.04)" textLength="8.58" lengthAdjust="spacingAndGlyphs">-98</text>
<text transform="translate(44.30,170.80) rotate(-0.04)" textLength="11.44" lengthAdjust="spacingAndGlyphs">-454</text>
<text transform="translate(44.30,174.65) rotate(-0.04)" textLength="20.02" lengthAdjust="spacingAndGlyphs">-331-3p</text>
<text transform="translate(44.30,178.50) rotate(-0.04)" textLength="11.44" lengthAdjust="spacingAndGlyphs">-425</text>
<text transform="translate(44.30,182.35) rotate(-0.04)" textLength="8.58" lengthAdjust="spacingAndGlyphs">-25</text>
<text transform="translate(44.30,186.20) rotate(-0.04)" textLength="11.44" lengthAdjust="spacingAndGlyphs">-20a</text>
<text transform="translate(44.30,190.05) rotate(-0.04)" textLength="11.44" lengthAdjust="spacingAndGlyphs">-17a</text>
<text transform="translate(44.30,193.90) rotate(-0.04)" textLength="20.02" lengthAdjust="spacingAndGlyphs">-486-3p</text>
<text transform="translate(44.30,197.75) rotate(-0.04)" textLength="11.44" lengthAdjust="spacingAndGlyphs">-188</text>
<text transform="translate(44.30,201.60) rotate(-0.04)" textLength="11.44" lengthAdjust="spacingAndGlyphs">-191</text>
<text transform="translate(44.30,205.45) rotate(-0.04)" textLength="11.44" lengthAdjust="spacingAndGlyphs">-192</text>
<text transform="translate(44.30,209.30) rotate(-0.04)" textLength="14.30" lengthAdjust="spacingAndGlyphs">-449a</text>
<text transform="translate(44.30,213.15) rotate(-0.04)" textLength="17.16" lengthAdjust="spacingAndGlyphs">-28-5p</text>
<text transform="translate(44.30,217.00) rotate(-0.04)" textLength="11.44" lengthAdjust="spacingAndGlyphs">-328</text>
<text transform="translate(44.30,220.85) rotate(-0.04)" textLength="17.16" lengthAdjust="spacingAndGlyphs">-28-3p</text>
</g>
<g font-family="'Liberation Mono', monospace" font-weight="bold" font-size="4.70" fill="#e320df" stroke="#e320df" stroke-width="0.2" filter="url(#tb)">
<text transform="translate(260.30,57.75) rotate(-0.04)" textLength="20.02" lengthAdjust="spacingAndGlyphs">-886-3p</text>
<text transform="translate(260.30,61.61) rotate(-0.04)" textLength="8.58" lengthAdjust="spacingAndGlyphs">-21</text>
<text transform="translate(260.30,65.46) rotate(-0.04)" textLength="20.02" lengthAdjust="spacingAndGlyphs">-886-5p</text>
<text transform="translate(260.30,69.32) rotate(-0.04)" textLength="11.44" lengthAdjust="spacingAndGlyphs">-222</text>
<text transform="translate(260.30,73.17) rotate(-0.04)" textLength="14.30" lengthAdjust="spacingAndGlyphs">-130a</text>
<text transform="translate(260.30,77.03) rotate(-0.04)" textLength="11.44" lengthAdjust="spacingAndGlyphs">-221</text>
<text transform="translate(260.30,80.88) rotate(-0.04)" textLength="11.44" lengthAdjust="spacingAndGlyphs">-99a</text>
<text transform="translate(260.30,84.74) rotate(-0.04)" textLength="14.30" lengthAdjust="spacingAndGlyphs">-125b</text>
<text transform="translate(260.30,88.59) rotate(-0.04)" textLength="11.44" lengthAdjust="spacingAndGlyphs">-34a</text>
<text transform="translate(260.30,92.45) rotate(-0.04)" textLength="14.30" lengthAdjust="spacingAndGlyphs">-146a</text>
<text transform="translate(260.30,96.30) rotate(-0.04)" textLength="22.88" lengthAdjust="spacingAndGlyphs">-125a-5p</text>
<text transform="translate(260.30,100.16) rotate(-0.04)" textLength="11.44" lengthAdjust="spacingAndGlyphs">-10b</text>
<text transform="translate(260.30,104.01) rotate(-0.04)" textLength="14.30" lengthAdjust="spacingAndGlyphs">-199b</text>
<text transform="translate(260.30,107.87) rotate(-0.04)" textLength="20.02" lengthAdjust="spacingAndGlyphs">-342-5p</text>
<text transform="translate(260.30,111.72) rotate(-0.04)" textLength="20.02" lengthAdjust="spacingAndGlyphs">-let-7e</text>
<text transform="translate(260.30,115.58) rotate(-0.04)" textLength="20.02" lengthAdjust="spacingAndGlyphs">-423-5p</text>
<text transform="translate(260.30,119.43) rotate(-0.04)" textLength="22.88" lengthAdjust="spacingAndGlyphs">-146b-5p</text>
<text transform="translate(260.30,123.29) rotate(-0.04)" textLength="8.58" lengthAdjust="spacingAndGlyphs">-22</text>
<text transform="translate(260.30,127.14) rotate(-0.04)" textLength="11.44" lengthAdjust="spacingAndGlyphs">-642</text>
<text transform="translate(260.30,131.00) rotate(-0.04)" textLength="11.44" lengthAdjust="spacingAndGlyphs">-432</text>
<text transform="translate(260.30,134.85) rotate(-0.04)" textLength="20.02" lengthAdjust="spacingAndGlyphs">-532-3p</text>
<text transform="translate(260.30,138.71) rotate(-0.04)" textLength="20.02" lengthAdjust="spacingAndGlyphs">-532-5p</text>
<text transform="translate(260.30,142.56) rotate(-0.04)" textLength="14.30" lengthAdjust="spacingAndGlyphs">-330b</text>
<text transform="translate(260.30,146.42) rotate(-0.04)" textLength="11.44" lengthAdjust="spacingAndGlyphs">-425</text>
<text transform="translate(260.30,150.27) rotate(-0.04)" textLength="20.02" lengthAdjust="spacingAndGlyphs">-455-3p</text>
<text transform="translate(260.30,154.13) rotate(-0.04)" textLength="11.44" lengthAdjust="spacingAndGlyphs">-183</text>
<text transform="translate(260.30,157.98) rotate(-0.04)" textLength="11.44" lengthAdjust="spacingAndGlyphs">-182</text>
<text transform="translate(260.30,161.84) rotate(-0.04)" textLength="14.30" lengthAdjust="spacingAndGlyphs">-301a</text>
<text transform="translate(260.30,165.69) rotate(-0.04)" textLength="11.44" lengthAdjust="spacingAndGlyphs">-185</text>
<text transform="translate(260.30,169.55) rotate(-0.04)" textLength="11.44" lengthAdjust="spacingAndGlyphs">-103</text>
<text transform="translate(260.30,173.40) rotate(-0.04)" textLength="11.44" lengthAdjust="spacingAndGlyphs">-107</text>
<text transform="translate(260.30,177.26) rotate(-0.04)" textLength="11.44" lengthAdjust="spacingAndGlyphs">-191</text>
<text transform="translate(260.30,181.11) rotate(-0.04)" textLength="11.44" lengthAdjust="spacingAndGlyphs">-361</text>
<text transform="translate(260.30,184.97) rotate(-0.04)" textLength="11.44" lengthAdjust="spacingAndGlyphs">-484</text>
<text transform="translate(260.30,188.82) rotate(-0.04)" textLength="11.44" lengthAdjust="spacingAndGlyphs">-324</text>
<text transform="translate(260.30,192.68) rotate(-0.04)" textLength="11.44" lengthAdjust="spacingAndGlyphs">-652</text>
<text transform="translate(260.30,196.53) rotate(-0.04)" textLength="20.02" lengthAdjust="spacingAndGlyphs">-140-3p</text>
<text transform="translate(260.30,200.39) rotate(-0.04)" textLength="14.30" lengthAdjust="spacingAndGlyphs">-106b</text>
<text transform="translate(260.30,204.24) rotate(-0.04)" textLength="11.44" lengthAdjust="spacingAndGlyphs">-320</text>
<text transform="translate(260.30,208.10) rotate(-0.04)" textLength="11.44" lengthAdjust="spacingAndGlyphs">-151</text>
<text transform="translate(260.30,211.95) rotate(-0.04)" textLength="11.44" lengthAdjust="spacingAndGlyphs">-186</text>
<text transform="translate(260.30,215.81) rotate(-0.04)" textLength="14.30" lengthAdjust="spacingAndGlyphs">-181a</text>
<text transform="translate(260.30,219.66) rotate(-0.04)" textLength="11.44" lengthAdjust="spacingAndGlyphs">-195</text>
<text transform="translate(260.30,223.52) rotate(-0.04)" textLength="11.44" lengthAdjust="spacingAndGlyphs">-194</text>
<text transform="translate(260.30,227.37) rotate(-0.04)" textLength="14.30" lengthAdjust="spacingAndGlyphs">-181b</text>
<text transform="translate(260.30,231.23) rotate(-0.04)" textLength="14.30" lengthAdjust="spacingAndGlyphs">-148a</text>
<text transform="translate(260.30,235.08) rotate(-0.04)" textLength="11.44" lengthAdjust="spacingAndGlyphs">-92a</text>
<text transform="translate(260.30,238.94) rotate(-0.04)" textLength="8.58" lengthAdjust="spacingAndGlyphs">-98</text>
</g>
<rect x="17.4" y="81.3" width="7.5" height="100.7" fill="url(#lg)"/>
<text filter="url(#tb2)" transform="translate(30.90,96.50) rotate(-90)" text-anchor="middle" font-size="6.50" font-weight="bold" fill="#000" stroke="#000" stroke-width="0.390" textLength="3.60" lengthAdjust="spacingAndGlyphs" >4</text>
<text filter="url(#tb2)" transform="translate(30.90,112.70) rotate(-90)" text-anchor="middle" font-size="6.50" font-weight="bold" fill="#000" stroke="#000" stroke-width="0.390" textLength="3.60" lengthAdjust="spacingAndGlyphs" >2</text>
<text filter="url(#tb2)" transform="translate(30.90,131.20) rotate(-90)" text-anchor="middle" font-size="6.50" font-weight="bold" fill="#000" stroke="#000" stroke-width="0.390" textLength="3.60" lengthAdjust="spacingAndGlyphs" >1</text>
<text filter="url(#tb2)" transform="translate(30.90,151.60) rotate(-90)" text-anchor="middle" font-size="6.50" font-weight="bold" fill="#000" stroke="#000" stroke-width="0.390" textLength="8.60" lengthAdjust="spacingAndGlyphs" >0.5</text>
<text filter="url(#tb2)" transform="translate(30.90,171.00) rotate(-90)" text-anchor="middle" font-size="6.50" font-weight="bold" fill="#000" stroke="#000" stroke-width="0.390" textLength="12.00" lengthAdjust="spacingAndGlyphs" >0.25</text>
<text filter="url(#tb2)" transform="translate(6.30,131.30) rotate(-90)" text-anchor="middle" font-size="6.40" font-weight="bold" fill="#000" stroke="#000" stroke-width="0.384" textLength="94.00" lengthAdjust="spacingAndGlyphs" >Relative Level of Expression (x</text>
<text filter="url(#tb2)" transform="translate(14.30,131.50) rotate(-90)" text-anchor="middle" font-size="6.40" font-weight="bold" fill="#000" stroke="#000" stroke-width="0.384" textLength="43.00" lengthAdjust="spacingAndGlyphs" >median value)</text>
<clipPath id="c10"><rect x="346.25" y="31.50" width="26.25" height="71.25"/></clipPath>
<g clip-path="url(#c10)"><g filter="url(#bl2)">
<rect x="343.25" y="28.50" width="32.25" height="11.10" fill="#b00a0a"/>
<rect x="343.25" y="38.00" width="32.25" height="3.60" fill="#820000"/>
<rect x="343.25" y="40.00" width="32.25" height="5.60" fill="#640000"/>
<rect x="343.25" y="44.00" width="32.25" height="5.60" fill="#580000"/>
<rect x="343.25" y="48.00" width="32.25" height="8.60" fill="#6e0000"/>
<rect x="343.25" y="55.00" width="32.25" height="6.60" fill="#620000"/>
<rect x="343.25" y="60.00" width="32.25" height="11.60" fill="#690000"/>
<rect x="343.25" y="70.00" width="32.25" height="9.60" fill="#5c0000"/>
<rect x="343.25" y="78.00" width="32.25" height="3.60" fill="#6e0000"/>
<rect x="343.25" y="80.00" width="32.25" height="3.60" fill="#820000"/>
<rect x="343.25" y="82.00" width="32.25" height="3.60" fill="#6e0000"/>
<rect x="343.25" y="84.00" width="32.25" height="13.60" fill="#5f0000"/>
<rect x="343.25" y="96.00" width="32.25" height="5.60" fill="#780000"/>
<rect x="343.25" y="100.00" width="32.25" height="7.35" fill="#5a0000"/>
</g></g>
<clipPath id="c11"><rect x="374.10" y="31.50" width="25.50" height="71.25"/></clipPath>
<g clip-path="url(#c11)"><g filter="url(#bl2)">
<rect x="371.10" y="28.50" width="31.50" height="11.10" fill="#008800"/>
<rect x="371.10" y="38.00" width="31.50" height="3.60" fill="#005a00"/>
<rect x="371.10" y="40.00" width="31.50" height="5.60" fill="#004400"/>
<rect x="371.10" y="44.00" width="31.50" height="5.60" fill="#005100"/>
<rect x="371.10" y="48.00" width="31.50" height="5.60" fill="#006300"/>
<rect x="371.10" y="52.00" width="31.50" height="5.60" fill="#004c00"/>
<rect x="371.10" y="56.00" width="31.50" height="5.60" fill="#005a00"/>
<rect x="371.10" y="60.00" width="31.50" height="6.60" fill="#005100"/>
<rect x="371.10" y="65.00" width="31.50" height="6.60" fill="#004800"/>
<rect x="371.10" y="70.00" width="31.50" height="9.60" fill="#005600"/>
<rect x="371.10" y="78.00" width="31.50" height="7.60" fill="#005a00"/>
<rect x="371.10" y="84.00" width="31.50" height="5.60" fill="#003f00"/>
<rect x="371.10" y="88.00" width="31.50" height="5.60" fill="#004800"/>
<rect x="371.10" y="92.00" width="31.50" height="15.35" fill="#003f00"/>
</g></g>
<clipPath id="c12"><rect x="346.25" y="104.75" width="26.25" height="145.00"/></clipPath>
<g clip-path="url(#c12)"><g filter="url(#bl2)">
<rect x="343.25" y="101.75" width="32.25" height="10.85" fill="#00f000"/>
<rect x="343.25" y="111.00" width="32.25" height="3.60" fill="#009600"/>
<rect x="343.25" y="113.00" width="32.25" height="4.60" fill="#005a00"/>
<rect x="343.25" y="116.00" width="32.25" height="6.60" fill="#003700"/>
<rect x="343.25" y="121.00" width="32.25" height="5.60" fill="#004600"/>
<rect x="343.25" y="125.00" width="32.25" height="3.60" fill="#007800"/>
<rect x="343.25" y="127.00" width="32.25" height="5.60" fill="#008c00"/>
<rect x="343.25" y="131.00" width="32.25" height="5.60" fill="#00b400"/>
<rect x="343.25" y="135.00" width="32.25" height="3.60" fill="#008200"/>
<rect x="343.25" y="137.00" width="32.25" height="3.60" fill="#00a000"/>
<rect x="343.25" y="139.00" width="32.25" height="3.60" fill="#008200"/>
<rect x="343.25" y="141.00" width="32.25" height="3.60" fill="#005000"/>
<rect x="343.25" y="143.00" width="32.25" height="13.60" fill="#003700"/>
<rect x="343.25" y="155.00" width="32.25" height="3.60" fill="#005a00"/>
<rect x="343.25" y="157.00" width="32.25" height="6.60" fill="#009600"/>
<rect x="343.25" y="162.00" width="32.25" height="5.60" fill="#007d00"/>
<rect x="343.25" y="166.00" width="32.25" height="4.60" fill="#008c00"/>
<rect x="343.25" y="169.00" width="32.25" height="4.60" fill="#003c00"/>
<rect x="343.25" y="172.00" width="32.25" height="7.60" fill="#00f000"/>
<rect x="343.25" y="178.00" width="32.25" height="3.60" fill="#006400"/>
<rect x="343.25" y="180.00" width="32.25" height="5.60" fill="#003200"/>
<rect x="343.25" y="184.00" width="32.25" height="5.60" fill="#008200"/>
<rect x="343.25" y="188.00" width="32.25" height="3.60" fill="#003200"/>
<rect x="343.25" y="190.00" width="32.25" height="5.60" fill="#008c00"/>
<rect x="343.25" y="194.00" width="32.25" height="4.60" fill="#003200"/>
<rect x="343.25" y="197.00" width="32.25" height="7.60" fill="#00d200"/>
<rect x="343.25" y="203.00" width="32.25" height="6.60" fill="#009600"/>
<rect x="343.25" y="208.00" width="32.25" height="4.60" fill="#007800"/>
<rect x="343.25" y="211.00" width="32.25" height="4.60" fill="#005a00"/>
<rect x="343.25" y="214.00" width="32.25" height="2.60" fill="#003200"/>
<rect x="343.25" y="215.00" width="32.25" height="5.60" fill="#00aa00"/>
<rect x="343.25" y="219.00" width="32.25" height="7.60" fill="#008200"/>
<rect x="343.25" y="225.00" width="32.25" height="4.60" fill="#006400"/>
<rect x="343.25" y="228.00" width="32.25" height="4.60" fill="#005000"/>
<rect x="343.25" y="231.00" width="32.25" height="2.60" fill="#007800"/>
<rect x="343.25" y="232.00" width="32.25" height="6.60" fill="#00dc00"/>
<rect x="343.25" y="237.00" width="32.25" height="4.60" fill="#00aa00"/>
<rect x="343.25" y="240.00" width="32.25" height="5.60" fill="#008c00"/>
<rect x="343.25" y="244.00" width="32.25" height="4.60" fill="#005000"/>
<rect x="343.25" y="247.00" width="32.25" height="7.35" fill="#003c00"/>
</g></g>
<clipPath id="c13"><rect x="374.10" y="104.75" width="25.50" height="145.00"/></clipPath>
<g clip-path="url(#c13)"><g filter="url(#bl2)">
<rect x="371.10" y="101.75" width="31.50" height="10.85" fill="#fa0000"/>
<rect x="371.10" y="111.00" width="31.50" height="3.60" fill="#aa0000"/>
<rect x="371.10" y="113.00" width="31.50" height="4.60" fill="#6e0000"/>
<rect x="371.10" y="116.00" width="31.50" height="6.60" fill="#4b0000"/>
<rect x="371.10" y="121.00" width="31.50" height="5.60" fill="#640000"/>
<rect x="371.10" y="125.00" width="31.50" height="3.60" fill="#a00000"/>
<rect x="371.10" y="127.00" width="31.50" height="5.60" fill="#be0000"/>
<rect x="371.10" y="131.00" width="31.50" height="5.60" fill="#e10000"/>
<rect x="371.10" y="135.00" width="31.50" height="3.60" fill="#b40000"/>
<rect x="371.10" y="137.00" width="31.50" height="3.60" fill="#c80000"/>
<rect x="371.10" y="139.00" width="31.50" height="3.60" fill="#aa0000"/>
<rect x="371.10" y="141.00" width="31.50" height="3.60" fill="#780000"/>
<rect x="371.10" y="143.00" width="31.50" height="13.60" fill="#500000"/>
<rect x="371.10" y="155.00" width="31.50" height="3.60" fill="#780000"/>
<rect x="371.10" y="157.00" width="31.50" height="6.60" fill="#be0000"/>
<rect x="371.10" y="162.00" width="31.50" height="5.60" fill="#a50000"/>
<rect x="371.10" y="166.00" width="31.50" height="4.60" fill="#b40000"/>
<rect x="371.10" y="169.00" width="31.50" height="4.60" fill="#640000"/>
<rect x="371.10" y="172.00" width="31.50" height="7.60" fill="#fa0000"/>
<rect x="371.10" y="178.00" width="31.50" height="3.60" fill="#960000"/>
<rect x="371.10" y="180.00" width="31.50" height="5.60" fill="#500000"/>
<rect x="371.10" y="184.00" width="31.50" height="5.60" fill="#aa0000"/>
<rect x="371.10" y="188.00" width="31.50" height="3.60" fill="#5a0000"/>
<rect x="371.10" y="190.00" width="31.50" height="5.60" fill="#b40000"/>
<rect x="371.10" y="194.00" width="31.50" height="4.60" fill="#640000"/>
<rect x="371.10" y="197.00" width="31.50" height="7.60" fill="#f00000"/>
<rect x="371.10" y="203.00" width="31.50" height="6.60" fill="#c80000"/>
<rect x="371.10" y="208.00" width="31.50" height="4.60" fill="#aa0000"/>
<rect x="371.10" y="211.00" width="31.50" height="4.60" fill="#820000"/>
<rect x="371.10" y="214.00" width="31.50" height="2.60" fill="#640000"/>
<rect x="371.10" y="215.00" width="31.50" height="5.60" fill="#dc0000"/>
<rect x="371.10" y="219.00" width="31.50" height="7.60" fill="#b40000"/>
<rect x="371.10" y="225.00" width="31.50" height="4.60" fill="#960000"/>
<rect x="371.10" y="228.00" width="31.50" height="4.60" fill="#820000"/>
<rect x="371.10" y="231.00" width="31.50" height="2.60" fill="#aa0000"/>
<rect x="371.10" y="232.00" width="31.50" height="6.60" fill="#fa0000"/>
<rect x="371.10" y="237.00" width="31.50" height="4.60" fill="#d20000"/>
<rect x="371.10" y="240.00" width="31.50" height="5.60" fill="#b40000"/>
<rect x="371.10" y="244.00" width="31.50" height="4.60" fill="#780000"/>
<rect x="371.10" y="247.00" width="31.50" height="7.35" fill="#640000"/>
</g></g>
<g font-family="'Liberation Mono', monospace" font-weight="bold" font-size="5.00" fill="#000" stroke="#000" stroke-width="0.2" filter="url(#tb)">
<text transform="translate(403.20,35.75) rotate(-0.04)" textLength="20.44" lengthAdjust="spacingAndGlyphs">-339-5p</text>
<text transform="translate(403.20,39.95) rotate(-0.04)" textLength="20.44" lengthAdjust="spacingAndGlyphs">-339-3p</text>
<text transform="translate(403.20,44.14) rotate(-0.04)" textLength="11.68" lengthAdjust="spacingAndGlyphs">-223</text>
<text transform="translate(403.20,48.34) rotate(-0.04)" textLength="11.68" lengthAdjust="spacingAndGlyphs">-197</text>
<text transform="translate(403.20,52.54) rotate(-0.04)" textLength="11.68" lengthAdjust="spacingAndGlyphs">-150</text>
<text transform="translate(403.20,56.73) rotate(-0.04)" textLength="11.68" lengthAdjust="spacingAndGlyphs">-708</text>
<text transform="translate(403.20,60.93) rotate(-0.04)" textLength="11.68" lengthAdjust="spacingAndGlyphs">-222</text>
<text transform="translate(403.20,65.13) rotate(-0.04)" textLength="14.60" lengthAdjust="spacingAndGlyphs">-200b</text>
<text transform="translate(403.20,69.33) rotate(-0.04)" textLength="17.52" lengthAdjust="spacingAndGlyphs">-28-3p</text>
<text transform="translate(403.20,73.52) rotate(-0.04)" textLength="11.68" lengthAdjust="spacingAndGlyphs">-24a</text>
<text transform="translate(403.20,77.72) rotate(-0.04)" textLength="11.68" lengthAdjust="spacingAndGlyphs">-197</text>
<text transform="translate(403.20,81.92) rotate(-0.04)" textLength="11.68" lengthAdjust="spacingAndGlyphs">-491</text>
<text transform="translate(403.20,86.11) rotate(-0.04)" textLength="14.60" lengthAdjust="spacingAndGlyphs">-200b</text>
<text transform="translate(403.20,90.31) rotate(-0.04)" textLength="8.76" lengthAdjust="spacingAndGlyphs">-95</text>
<text transform="translate(403.20,94.51) rotate(-0.04)" textLength="20.44" lengthAdjust="spacingAndGlyphs">-140-3p</text>
<text transform="translate(403.20,98.71) rotate(-0.04)" textLength="20.44" lengthAdjust="spacingAndGlyphs">-342-3p</text>
<text transform="translate(403.20,102.90) rotate(-0.04)" textLength="23.36" lengthAdjust="spacingAndGlyphs">-146b-3p</text>
</g>
<g font-family="'Liberation Mono', monospace" font-weight="bold" font-size="5.00" fill="#000" stroke="#000" stroke-width="0.2" filter="url(#tb)">
<text transform="translate(403.20,108.25) rotate(-0.04)" textLength="17.52" lengthAdjust="spacingAndGlyphs">-4443p</text>
<text transform="translate(403.20,112.47) rotate(-0.04)" textLength="20.44" lengthAdjust="spacingAndGlyphs">-886-3p</text>
<text transform="translate(403.20,116.69) rotate(-0.04)" textLength="20.44" lengthAdjust="spacingAndGlyphs">-362-3p</text>
<text transform="translate(403.20,120.91) rotate(-0.04)" textLength="11.68" lengthAdjust="spacingAndGlyphs">-155</text>
<text transform="translate(403.20,125.13) rotate(-0.04)" textLength="11.68" lengthAdjust="spacingAndGlyphs">-335</text>
<text transform="translate(403.20,129.35) rotate(-0.04)" textLength="20.44" lengthAdjust="spacingAndGlyphs">-324-5p</text>
<text transform="translate(403.20,133.58) rotate(-0.04)" textLength="11.68" lengthAdjust="spacingAndGlyphs">-221</text>
<text transform="translate(403.20,137.80) rotate(-0.04)" textLength="23.36" lengthAdjust="spacingAndGlyphs">-193a-5p</text>
<text transform="translate(403.20,142.02) rotate(-0.04)" textLength="11.68" lengthAdjust="spacingAndGlyphs">-132</text>
<text transform="translate(403.20,146.24) rotate(-0.04)" textLength="14.60" lengthAdjust="spacingAndGlyphs">-130b</text>
<text transform="translate(403.20,150.46) rotate(-0.04)" textLength="14.60" lengthAdjust="spacingAndGlyphs">-106a</text>
<text transform="translate(403.20,154.68) rotate(-0.04)" textLength="8.76" lengthAdjust="spacingAndGlyphs">-99</text>
<text transform="translate(403.20,158.90) rotate(-0.04)" textLength="11.68" lengthAdjust="spacingAndGlyphs">-93a</text>
<text transform="translate(403.20,163.12) rotate(-0.04)" textLength="8.76" lengthAdjust="spacingAndGlyphs">-21</text>
<text transform="translate(403.20,167.34) rotate(-0.04)" textLength="11.68" lengthAdjust="spacingAndGlyphs">-20b</text>
<text transform="translate(403.20,171.56) rotate(-0.04)" textLength="11.68" lengthAdjust="spacingAndGlyphs">-20a</text>
<text transform="translate(403.20,175.79) rotate(-0.04)" textLength="11.68" lengthAdjust="spacingAndGlyphs">-19b</text>
<text transform="translate(403.20,180.01) rotate(-0.04)" textLength="11.68" lengthAdjust="spacingAndGlyphs">-19a</text>
<text transform="translate(403.20,184.23) rotate(-0.04)" textLength="11.68" lengthAdjust="spacingAndGlyphs">-18b</text>
<text transform="translate(403.20,188.45) rotate(-0.04)" textLength="11.68" lengthAdjust="spacingAndGlyphs">-18a</text>
<text transform="translate(403.20,192.67) rotate(-0.04)" textLength="8.76" lengthAdjust="spacingAndGlyphs">-17</text>
<text transform="translate(403.20,196.89) rotate(-0.04)" textLength="5.84" lengthAdjust="spacingAndGlyphs">-9</text>
<text transform="translate(403.20,201.11) rotate(-0.04)" textLength="20.44" lengthAdjust="spacingAndGlyphs">-let-7d</text>
<text transform="translate(403.20,205.33) rotate(-0.04)" textLength="11.68" lengthAdjust="spacingAndGlyphs">-212</text>
<text transform="translate(403.20,209.55) rotate(-0.04)" textLength="20.44" lengthAdjust="spacingAndGlyphs">-877-3p</text>
<text transform="translate(403.20,213.78) rotate(-0.04)" textLength="11.68" lengthAdjust="spacingAndGlyphs">-505</text>
<text transform="translate(403.20,218.00) rotate(-0.04)" textLength="20.44" lengthAdjust="spacingAndGlyphs">-502-3p</text>
<text transform="translate(403.20,222.22) rotate(-0.04)" textLength="20.44" lengthAdjust="spacingAndGlyphs">-501-3p</text>
<text transform="translate(403.20,226.44) rotate(-0.04)" textLength="11.68" lengthAdjust="spacingAndGlyphs">-500</text>
<text transform="translate(403.20,230.66) rotate(-0.04)" textLength="11.68" lengthAdjust="spacingAndGlyphs">-494</text>
<text transform="translate(403.20,234.88) rotate(-0.04)" textLength="14.60" lengthAdjust="spacingAndGlyphs">-449a</text>
<text transform="translate(403.20,239.10) rotate(-0.04)" textLength="14.60" lengthAdjust="spacingAndGlyphs">-422a</text>
<text transform="translate(403.20,243.32) rotate(-0.04)" textLength="11.68" lengthAdjust="spacingAndGlyphs">-345</text>
<text transform="translate(403.20,247.54) rotate(-0.04)" textLength="20.44" lengthAdjust="spacingAndGlyphs">-362-5p</text>
</g>
<text filter="url(#tb2)" transform="translate(356.00,18.30) rotate(-90)" text-anchor="middle" font-size="6.60" font-weight="bold" fill="#000" stroke="#000" stroke-width="0.396" textLength="22.50" lengthAdjust="spacingAndGlyphs" >Resting</text>
<text filter="url(#tb2)" transform="translate(363.70,18.60) rotate(-90)" text-anchor="middle" font-size="6.60" font-weight="bold" fill="#000" stroke="#000" stroke-width="0.396" textLength="18.60" lengthAdjust="spacingAndGlyphs" >B-cells</text>
<text filter="url(#tb2)" transform="translate(383.00,13.30) rotate(-90)" text-anchor="middle" font-size="6.60" font-weight="bold" fill="#000" stroke="#000" stroke-width="0.396" textLength="30.50" lengthAdjust="spacingAndGlyphs" >Activated</text>
<text filter="url(#tb2)" transform="translate(390.20,16.00) rotate(-90)" text-anchor="middle" font-size="6.60" font-weight="bold" fill="#000" stroke="#000" stroke-width="0.396" textLength="20.90" lengthAdjust="spacingAndGlyphs" >B-cells</text>
<text filter="url(#tb2)" transform="translate(450.00,155.00) rotate(-90)" text-anchor="middle" font-size="6.50" font-weight="normal" fill="#000" stroke="#000" stroke-width="0.228" textLength="138.80" lengthAdjust="spacingAndGlyphs" >Peripheral blood B-cells resting = no activation</text>
<text filter="url(#tb2)" transform="translate(457.20,180.40) rotate(-90)" text-anchor="middle" font-size="6.50" font-weight="normal" fill="#000" stroke="#000" stroke-width="0.228" textLength="88.00" lengthAdjust="spacingAndGlyphs" >Activation of B-cells: IgM, IL-4</text>
<g stroke="#7a7a7a" stroke-width="0.65" fill="none">
<path d="M65.50 343.00V367.00M62.52 343.00H68.48M62.52 367.00H68.48"/>
<path d="M79.55 358.20V382.70M76.50 358.20H82.60M76.50 382.70H82.60"/>
<path d="M93.55 357.40V372.20M90.84 357.40H96.26M90.84 372.20H96.26"/>
<path d="M106.65 347.00V370.60M103.99 347.00H109.31M103.99 370.60H109.31"/>
<path d="M119.30 345.00V371.70M116.13 345.00H122.47M116.13 371.70H122.47"/>
<path d="M145.90 340.50V370.80M143.31 340.50H148.49M143.31 370.80H148.49"/>
<path d="M160.25 354.50V375.00M157.15 354.50H163.35M157.15 375.00H163.35"/>
<path d="M174.85 351.30V371.80M172.14 351.30H177.56M172.14 371.80H177.56"/>
<path d="M188.40 350.00V373.00M185.81 350.00H190.99M185.81 373.00H190.99"/>
<path d="M200.55 334.50V366.80M197.55 334.50H203.55M197.55 366.80H203.55"/>
<path d="M226.75 328.20V355.00M223.75 328.20H229.75M223.75 355.00H229.75"/>
<path d="M240.90 338.80V362.50M237.73 338.80H244.07M237.73 362.50H244.07"/>
<path d="M255.65 336.30V357.50M252.70 336.30H258.60M252.70 357.50H258.60"/>
<path d="M271.15 331.30V356.80M268.44 331.30H273.86M268.44 356.80H273.86"/>
<path d="M284.15 325.50V354.30M280.96 325.50H287.34M280.96 354.30H287.34"/>
<path d="M312.15 341.30V361.30M309.34 341.30H314.96M309.34 361.30H314.96"/>
<path d="M326.25 340.50V366.80M323.25 340.50H329.25M323.25 366.80H329.25"/>
<path d="M340.65 341.30V363.00M337.70 341.30H343.60M337.70 363.00H343.60"/>
<path d="M354.40 338.30V364.30M351.71 338.30H357.09M351.71 364.30H357.09"/>
<path d="M368.75 339.30V366.30M365.51 339.30H371.99M365.51 366.30H371.99"/>
<path d="M391.00 323.80V357.00M388.36 323.80H393.64M388.36 357.00H393.64"/>
<path d="M404.70 335.00V362.00M401.87 335.00H407.53M401.87 362.00H407.53"/>
<path d="M417.90 312.20V360.50M415.31 312.20H420.49M415.31 360.50H420.49"/>
<path d="M431.20 314.30V357.50M428.80 314.30H433.60M428.80 357.50H433.60"/>
<path d="M442.60 314.30V337.50M439.62 314.30H445.58M439.62 337.50H445.58"/>
<path d="M461.55 332.50V362.00M459.03 332.50H464.07M459.03 362.00H464.07"/>
<path d="M477.30 342.50V367.00M474.42 342.50H480.18M474.42 367.00H480.18"/>
<path d="M492.25 346.30V364.30M489.73 346.30H494.77M489.73 364.30H494.77"/>
<path d="M506.30 339.30V367.50M503.90 339.30H508.70M503.90 367.50H508.70"/>
<path d="M514.75 322.50V348.30M511.75 322.50H517.75M511.75 348.30H517.75"/>
</g>
<rect x="59.30" y="358.50" width="12.40" height="6.70" rx="0.6" fill="#1fa9e6" stroke="#1587bd" stroke-width="0.35"/>
<path d="M59.70 361.80H71.30" stroke="#1587bd" stroke-width="0.6"/>
<rect x="73.20" y="364.90" width="12.70" height="5.40" rx="0.6" fill="#c00c1a" stroke="#8f0a18" stroke-width="0.35"/>
<path d="M73.60 367.60H85.50" stroke="#8f0a18" stroke-width="0.6"/>
<rect x="87.90" y="360.50" width="11.30" height="7.30" rx="0.6" fill="#fbb91c" stroke="#c98f0c" stroke-width="0.35"/>
<path d="M88.30 364.30H98.80" stroke="#c98f0c" stroke-width="0.6"/>
<rect x="101.10" y="364.00" width="11.10" height="2.70" rx="0.6" fill="#adadb1" stroke="#85858a" stroke-width="0.35"/>
<path d="M101.50 365.30H111.80" stroke="#85858a" stroke-width="0.6"/>
<rect x="112.70" y="352.00" width="13.20" height="11.30" rx="0.6" fill="#6f9634" stroke="#52721f" stroke-width="0.35"/>
<path d="M113.10 357.40H125.50" stroke="#52721f" stroke-width="0.6"/>
<rect x="140.50" y="356.30" width="10.80" height="11.70" rx="0.6" fill="#1fa9e6" stroke="#1587bd" stroke-width="0.35"/>
<path d="M140.90 362.00H150.90" stroke="#1587bd" stroke-width="0.6"/>
<rect x="153.80" y="360.80" width="12.90" height="7.90" rx="0.6" fill="#c00c1a" stroke="#8f0a18" stroke-width="0.35"/>
<path d="M154.20 365.00H166.30" stroke="#8f0a18" stroke-width="0.6"/>
<rect x="169.20" y="359.50" width="11.30" height="6.80" rx="0.6" fill="#fbb91c" stroke="#c98f0c" stroke-width="0.35"/>
<path d="M169.60 363.00H180.10" stroke="#c98f0c" stroke-width="0.6"/>
<rect x="183.00" y="363.00" width="10.80" height="8.30" rx="0.6" fill="#adadb1" stroke="#85858a" stroke-width="0.35"/>
<path d="M183.40 368.00H193.40" stroke="#85858a" stroke-width="0.6"/>
<rect x="194.30" y="350.80" width="12.50" height="5.00" rx="0.6" fill="#6f9634" stroke="#52721f" stroke-width="0.35"/>
<path d="M194.70 353.30H206.40" stroke="#52721f" stroke-width="0.6"/>
<rect x="220.50" y="340.50" width="12.50" height="9.00" rx="0.6" fill="#1fa9e6" stroke="#1587bd" stroke-width="0.35"/>
<path d="M220.90 345.70H232.60" stroke="#1587bd" stroke-width="0.6"/>
<rect x="234.30" y="347.50" width="13.20" height="7.50" rx="0.6" fill="#c00c1a" stroke="#8f0a18" stroke-width="0.35"/>
<path d="M234.70 351.50H247.10" stroke="#8f0a18" stroke-width="0.6"/>
<rect x="249.50" y="343.80" width="12.30" height="8.20" rx="0.6" fill="#fbb91c" stroke="#c98f0c" stroke-width="0.35"/>
<path d="M249.90 349.20H261.40" stroke="#c98f0c" stroke-width="0.6"/>
<rect x="265.50" y="346.30" width="11.30" height="5.50" rx="0.6" fill="#adadb1" stroke="#85858a" stroke-width="0.35"/>
<path d="M265.90 349.20H276.40" stroke="#85858a" stroke-width="0.6"/>
<rect x="277.50" y="339.30" width="13.30" height="6.50" rx="0.6" fill="#6f9634" stroke="#52721f" stroke-width="0.35"/>
<path d="M277.90 342.50H290.40" stroke="#52721f" stroke-width="0.6"/>
<rect x="306.30" y="350.80" width="11.70" height="7.50" rx="0.6" fill="#1fa9e6" stroke="#1587bd" stroke-width="0.35"/>
<path d="M306.70 354.30H317.60" stroke="#1587bd" stroke-width="0.6"/>
<rect x="320.00" y="354.30" width="12.50" height="7.70" rx="0.6" fill="#c00c1a" stroke="#8f0a18" stroke-width="0.35"/>
<path d="M320.40 358.50H332.10" stroke="#8f0a18" stroke-width="0.6"/>
<rect x="334.50" y="353.80" width="12.30" height="5.70" rx="0.6" fill="#fbb91c" stroke="#c98f0c" stroke-width="0.35"/>
<path d="M334.90 357.00H346.40" stroke="#c98f0c" stroke-width="0.6"/>
<rect x="348.80" y="356.30" width="11.20" height="5.00" rx="0.6" fill="#adadb1" stroke="#85858a" stroke-width="0.35"/>
<path d="M349.20 359.00H359.60" stroke="#85858a" stroke-width="0.6"/>
<rect x="362.00" y="349.30" width="13.50" height="9.50" rx="0.6" fill="#6f9634" stroke="#52721f" stroke-width="0.35"/>
<path d="M362.40 352.50H375.10" stroke="#52721f" stroke-width="0.6"/>
<rect x="385.50" y="336.30" width="11.00" height="9.50" rx="0.6" fill="#1fa9e6" stroke="#1587bd" stroke-width="0.35"/>
<path d="M385.90 340.50H396.10" stroke="#1587bd" stroke-width="0.6"/>
<rect x="398.80" y="341.30" width="11.80" height="12.00" rx="0.6" fill="#c00c1a" stroke="#8f0a18" stroke-width="0.35"/>
<path d="M399.20 347.00H410.20" stroke="#8f0a18" stroke-width="0.6"/>
<rect x="412.50" y="336.30" width="10.80" height="15.50" rx="0.6" fill="#fbb91c" stroke="#c98f0c" stroke-width="0.35"/>
<path d="M412.90 343.00H422.90" stroke="#c98f0c" stroke-width="0.6"/>
<rect x="426.20" y="337.50" width="10.00" height="11.80" rx="0.6" fill="#adadb1" stroke="#85858a" stroke-width="0.35"/>
<path d="M426.60 343.00H435.80" stroke="#85858a" stroke-width="0.6"/>
<rect x="436.40" y="323.30" width="12.40" height="6.70" rx="0.6" fill="#6f9634" stroke="#52721f" stroke-width="0.35"/>
<path d="M436.80 326.50H448.40" stroke="#52721f" stroke-width="0.6"/>
<rect x="456.30" y="346.80" width="10.50" height="8.70" rx="0.6" fill="#1fa9e6" stroke="#1587bd" stroke-width="0.35"/>
<path d="M456.70 351.00H466.40" stroke="#1587bd" stroke-width="0.6"/>
<rect x="471.30" y="351.80" width="12.00" height="6.20" rx="0.6" fill="#c00c1a" stroke="#8f0a18" stroke-width="0.35"/>
<path d="M471.70 355.00H482.90" stroke="#8f0a18" stroke-width="0.6"/>
<rect x="487.00" y="351.30" width="10.50" height="4.20" rx="0.6" fill="#fbb91c" stroke="#c98f0c" stroke-width="0.35"/>
<path d="M487.40 353.60H497.10" stroke="#c98f0c" stroke-width="0.6"/>
<rect x="501.30" y="355.80" width="10.00" height="4.20" rx="0.6" fill="#adadb1" stroke="#85858a" stroke-width="0.35"/>
<path d="M501.70 358.00H510.90" stroke="#85858a" stroke-width="0.6"/>
<rect x="508.50" y="330.80" width="12.50" height="6.20" rx="0.6" fill="#6f9634" stroke="#52721f" stroke-width="0.35"/>
<path d="M508.90 334.00H520.60" stroke="#52721f" stroke-width="0.6"/>
<path d="M51.8 309.3V421.2" stroke="#000" stroke-width="1.5"/>
<path d="M47.6 309.80H52" stroke="#000" stroke-width="0.9"/>
<path d="M47.6 346.50H52" stroke="#000" stroke-width="0.9"/>
<path d="M47.6 383.20H52" stroke="#000" stroke-width="0.9"/>
<path d="M47.6 420.30H52" stroke="#000" stroke-width="0.9"/>
<text filter="url(#tb2)" x="46.30" y="318.35" font-size="10.00" font-weight="normal" fill="#000" stroke="#000" stroke-width="0.250" text-anchor="end" textLength="10.90" lengthAdjust="spacingAndGlyphs">28</text>
<text filter="url(#tb2)" x="46.30" y="354.45" font-size="10.00" font-weight="normal" fill="#000" stroke="#000" stroke-width="0.250" text-anchor="end" textLength="10.90" lengthAdjust="spacingAndGlyphs">23</text>
<text filter="url(#tb2)" x="46.30" y="390.65" font-size="10.00" font-weight="normal" fill="#000" stroke="#000" stroke-width="0.250" text-anchor="end" textLength="10.90" lengthAdjust="spacingAndGlyphs">18</text>
<text filter="url(#tb2)" x="46.30" y="427.65" font-size="10.00" font-weight="normal" fill="#000" stroke="#000" stroke-width="0.250" text-anchor="end" textLength="10.90" lengthAdjust="spacingAndGlyphs">13</text>
<text filter="url(#tb2)" transform="translate(25.60,368.50) rotate(-90)" text-anchor="middle" font-size="8.50" font-weight="bold" fill="#000" stroke="#000" stroke-width="0.510" textLength="128.00" lengthAdjust="spacingAndGlyphs" xml:space="preserve">Average C<tspan font-size="6.2">T</tspan> of  miRNA signature</text>
<text filter="url(#tb2)" x="89.00" y="414.80" font-size="8.80" font-weight="bold" fill="#000" stroke="#000" stroke-width="0.352" text-anchor="middle" textLength="47.00" lengthAdjust="spacingAndGlyphs">Centroblast</text>
<text filter="url(#tb2)" x="173.40" y="414.80" font-size="8.80" font-weight="bold" fill="#000" stroke="#000" stroke-width="0.352" text-anchor="middle" textLength="23.30" lengthAdjust="spacingAndGlyphs">Naïve</text>
<text filter="url(#tb2)" x="260.20" y="414.80" font-size="8.80" font-weight="bold" fill="#000" stroke="#000" stroke-width="0.352" text-anchor="middle" textLength="63.00" lengthAdjust="spacingAndGlyphs">activated B-cell</text>
<text filter="url(#tb2)" x="339.30" y="414.80" font-size="8.80" font-weight="bold" fill="#000" stroke="#000" stroke-width="0.352" text-anchor="middle" textLength="54.00" lengthAdjust="spacingAndGlyphs">resting B-cell</text>
<text filter="url(#tb2)" x="413.50" y="414.80" font-size="8.80" font-weight="bold" fill="#000" stroke="#000" stroke-width="0.352" text-anchor="middle" textLength="33.30" lengthAdjust="spacingAndGlyphs">Stromal</text>
<text filter="url(#tb2)" x="491.30" y="414.80" font-size="8.80" font-weight="bold" fill="#000" stroke="#000" stroke-width="0.352" text-anchor="middle" textLength="25.50" lengthAdjust="spacingAndGlyphs">T-cells</text>
<g stroke="#2a2a2a" stroke-width="0.85" fill="none">
<path d="M64.3 385.2V388.7H82.5V385.2"/>
<path d="M390.6 376.8V380.5H445.7V374M443.5 374H448"/>
<path d="M460.4 378.2V382H515.1V375.3M512.5 375.3H517.6"/>
</g>
<text filter="url(#tb2)" x="60.20" y="395.60" font-size="5.60" font-weight="normal" fill="#000" stroke="#000" stroke-width="0.300" text-anchor="start" textLength="29.30" lengthAdjust="spacingAndGlyphs">* p=0.0019</text>
<text filter="url(#tb2)" x="403.80" y="391.60" font-size="6.00" font-weight="normal" fill="#000" stroke="#000" stroke-width="0.300" text-anchor="start" textLength="26.20" lengthAdjust="spacingAndGlyphs">* p=0.018</text>
<text filter="url(#tb2)" x="473.60" y="393.60" font-size="6.00" font-weight="normal" fill="#000" stroke="#000" stroke-width="0.300" text-anchor="start" textLength="28.80" lengthAdjust="spacingAndGlyphs">* p&lt;0.0001</text>
<rect x="273" y="266.80" width="27.5" height="5.80" rx="0.5" fill="#1fa9e6"/>
<text filter="url(#tb2)" x="310" y="271.40" font-size="7.4" fill="#0a0a0a" stroke="#0a0a0a" stroke-width="0.42" textLength="40.60" lengthAdjust="spacingAndGlyphs" xml:space="preserve">ABC-DLBCL</text>
<rect x="273" y="275.40" width="27.5" height="5.70" rx="0.5" fill="#c00c1a"/>
<text filter="url(#tb2)" x="310" y="280.40" font-size="7.4" fill="#0a0a0a" stroke="#0a0a0a" stroke-width="0.42" textLength="43.50" lengthAdjust="spacingAndGlyphs" xml:space="preserve">GCB -DLBCL</text>
<rect x="273" y="283.60" width="27.5" height="5.10" rx="0.5" fill="#fbb91c"/>
<text filter="url(#tb2)" x="310" y="289.10" font-size="7.4" fill="#0a0a0a" stroke="#0a0a0a" stroke-width="0.42" textLength="45.50" lengthAdjust="spacingAndGlyphs" xml:space="preserve">PMBL-DLBCL</text>
<rect x="273" y="292.20" width="27.5" height="5.10" rx="0.5" fill="#adadb1"/>
<text filter="url(#tb2)" x="310" y="298.40" font-size="7.4" fill="#0a0a0a" stroke="#0a0a0a" stroke-width="0.42" textLength="73.80" lengthAdjust="spacingAndGlyphs" xml:space="preserve">DLBCL  Unclassifiable</text>
<rect x="273" y="301.50" width="27.5" height="5.20" rx="0.5" fill="#6f9634"/>
<text filter="url(#tb2)" x="310" y="307.80" font-size="7.4" fill="#0a0a0a" stroke="#0a0a0a" stroke-width="0.42" textLength="8.60" lengthAdjust="spacingAndGlyphs" xml:space="preserve">BL</text>
</svg></body></html>
